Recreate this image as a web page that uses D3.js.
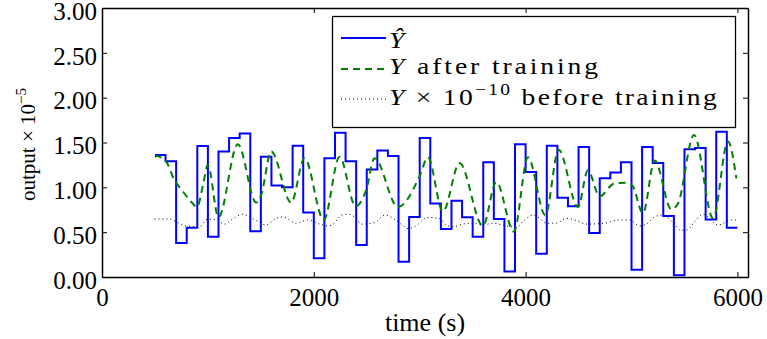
<!DOCTYPE html>
<html>
<head>
<meta charset="utf-8">
<script src="https://cdn.jsdelivr.net/npm/d3@7"></script>
<style>
  body { margin: 0; background: #fff; }
  svg text { font-family: "Liberation Serif", "DejaVu Serif", serif; }
</style>
</head>
<body>
<div id="chart"></div>
<script>
// Y-hat: zero-order hold, one value per 100 s interval starting at 500 s
const stepStart = 500;
const stepSize = 100;
const yHatValues = [
  1.36, 1.29, 0.38, 0.55, 1.46, 0.45, 1.40, 1.55, 1.60, 0.51,
  1.34, 1.02, 1.00, 1.465, 0.72, 0.21, 1.325, 1.61, 1.29, 0.357,
  1.20, 1.41, 1.35, 0.17, 0.67, 1.55, 0.82, 0.535, 0.85, 0.665,
  0.45, 1.28, 0.647, 0.06, 1.48, 1.17, 0.26, 1.465, 0.885, 0.79,
  1.45, 0.49, 1.10, 1.165, 1.28, 0.08, 1.45, 1.27, 0.68, 0.02,
  1.425, 1.44, 0.64, 1.62, 0.55
];

// Y after training (green dashed)
const afterTimes = [
  500, 520, 560, 605, 684, 753, 842, 898, 951, 999,
  1100, 1282, 1456, 1503, 1598, 1786, 1912, 2094, 2243, 2394,
  2495, 2573, 2794, 2998, 3077, 3219, 3376, 3597, 3723, 3889,
  4022, 4186, 4312, 4494, 4588, 4699, 4841, 4966, 5013, 5108,
  5219, 5376, 5439, 5590, 5770, 5911, 5990
];
const afterValues = [
  1.34, 1.35, 1.33, 1.29, 1.08, 0.97, 0.84, 0.78, 1.01, 1.25,
  0.666, 1.48, 0.83, 0.915, 1.40, 0.83, 1.325, 0.636, 1.34, 0.79,
  0.97, 1.325, 0.78, 1.12, 1.335, 0.73, 1.27, 0.57, 1.06, 0.505,
  1.335, 0.69, 1.42, 0.78, 1.19, 0.90, 1.045, 1.05, 1.01, 0.71,
  1.30, 0.755, 0.82, 1.585, 0.655, 1.51, 1.10
];

// Y x 1e-10 before training (black dotted)
const beforeTimes = [
  495, 637, 715, 794, 920, 999, 1078, 1156, 1220, 1329,
  1393, 1456, 1550, 1645, 1707, 1834, 1943, 2054, 2132, 2195,
  2259, 2321, 2400, 2448, 2573, 2668, 2826, 2888, 2951, 3077,
  3203, 3235, 3313, 3408, 3502, 3597, 3691, 3818, 3912, 3990,
  4069, 4132, 4195, 4290, 4384, 4479, 4573, 4746, 4872, 4982,
  5077, 5140, 5235, 5297, 5391, 5471, 5533, 5596, 5675, 5817,
  5943, 5990
];
const beforeValues = [
  0.647, 0.647, 0.606, 0.57, 0.56, 0.645, 0.64, 0.59, 0.636, 0.70,
  0.67, 0.63, 0.58, 0.655, 0.67, 0.60, 0.636, 0.59, 0.57, 0.60,
  0.69, 0.70, 0.655, 0.59, 0.606, 0.69, 0.59, 0.54, 0.56, 0.665,
  0.645, 0.59, 0.56, 0.59, 0.60, 0.58, 0.60, 0.57, 0.555, 0.636,
  0.69, 0.655, 0.60, 0.60, 0.655, 0.63, 0.59, 0.60, 0.636, 0.636,
  0.57, 0.59, 0.68, 0.69, 0.606, 0.517, 0.53, 0.617, 0.70, 0.58,
  0.636, 0.636
];

const xTicks = [0, 2000, 4000, 6000];
const yTicks = [0, 0.5, 1.0, 1.5, 2.0, 2.5, 3.0];

const width = 767, height = 339;
const margin = {top: 8, right: 19, bottom: 62, left: 102};
const serif = "'Liberation Serif', 'DejaVu Serif', serif";

const svg = d3.select("#chart").append("svg")
  .attr("width", width)
  .attr("height", height);

const x = d3.scaleLinear().domain([0, 6100]).range([margin.left, width - margin.right]);
const y = d3.scaleLinear().domain([0, 3]).range([height - margin.bottom, margin.top]);

// data series
const yHat = yHatValues.map((v, i) => [stepStart + i * stepSize, v]);
yHat.push([stepStart + yHatValues.length * stepSize, yHatValues[yHatValues.length - 1]]);
const after = afterTimes.map((t, i) => [t, afterValues[i]]);
const before = beforeTimes.map((t, i) => [t, beforeValues[i]]);

const plot = svg.append("g");

plot.append("path")
  .datum(before)
  .attr("fill", "none")
  .attr("stroke", "#000")
  .attr("stroke-width", 1)
  .attr("stroke-dasharray", "1,3")
  .attr("d", d3.line().x(d => x(d[0])).y(d => y(d[1])).curve(d3.curveMonotoneX));

plot.append("path")
  .datum(yHat)
  .attr("fill", "none")
  .attr("stroke", "#0000ff")
  .attr("stroke-width", 2)
  .attr("d", d3.line().x(d => x(d[0])).y(d => y(d[1])).curve(d3.curveStepAfter));

plot.append("path")
  .datum(after)
  .attr("fill", "none")
  .attr("stroke", "#008000")
  .attr("stroke-width", 2)
  .attr("stroke-dasharray", "7,5")
  .attr("d", d3.line().x(d => x(d[0])).y(d => y(d[1])).curve(d3.curveMonotoneX));

// axes, ticks pointing inward on all four sides
const axBottom = svg.append("g")
  .attr("transform", `translate(0,${y(0)})`)
  .call(d3.axisBottom(x).tickValues(xTicks).tickSizeInner(-5).tickSizeOuter(0)
    .tickPadding(11).tickFormat(d3.format("d")));
const axTop = svg.append("g")
  .attr("transform", `translate(0,${y(3)})`)
  .call(d3.axisTop(x).tickValues(xTicks).tickSizeInner(-5).tickSizeOuter(0).tickFormat(""));
const axLeft = svg.append("g")
  .attr("transform", `translate(${x(0)},0)`)
  .call(d3.axisLeft(y).tickValues(yTicks).tickSizeInner(-5).tickSizeOuter(0)
    .tickPadding(5).tickFormat(d3.format(".2f")));
const axRight = svg.append("g")
  .attr("transform", `translate(${x(6100)},0)`)
  .call(d3.axisRight(y).tickValues(yTicks).tickSizeInner(-5).tickSizeOuter(0).tickFormat(""));

[axBottom, axTop, axLeft, axRight].forEach(a => {
  a.attr("font-family", serif).attr("font-size", 25);
  a.select(".domain").attr("stroke", "#000").attr("stroke-width", 1.5);
  a.selectAll(".tick line").attr("stroke", "#000").attr("stroke-width", 1);
  a.selectAll(".tick text").attr("fill", "#000").style("font-size", "25px")
    .style("font-family", serif);
});
axLeft.selectAll(".tick text").attr("dy", "0.45em");

// axis titles
svg.append("text")
  .attr("x", (x(0) + x(6100)) / 2)
  .attr("y", 331)
  .attr("text-anchor", "middle")
  .style("font-size", "26px")
  .text("time (s)");

const yLabel = svg.append("text")
  .attr("transform", `translate(35,${(y(0) + y(3)) / 2 + 2}) rotate(-90)`)
  .attr("text-anchor", "middle")
  .style("font-size", "21px");
yLabel.append("tspan").text("output \u00d7 10");
yLabel.append("tspan").attr("dy", -9).style("font-size", "15px").text("\u22125");

// legend
const legend = svg.append("g");
legend.append("rect")
  .attr("x", 332.5).attr("y", 16.5)
  .attr("width", 403).attr("height", 111)
  .attr("fill", "#fff").attr("stroke", "#000").attr("stroke-width", 1.3);

const rows = [
  {cy: 38, base: 48, stroke: "#0000ff", dash: null, w: 2, span: 0},
  {cy: 69, base: 74, stroke: "#008000", dash: "7,5", w: 2, span: 212},
  {cy: 99, base: 105, stroke: "#000", dash: "1,3", w: 1, span: 330}
];
rows.forEach(r => {
  legend.append("line")
    .attr("x1", 341).attr("x2", 386)
    .attr("y1", r.cy).attr("y2", r.cy)
    .attr("stroke", r.stroke)
    .attr("stroke-width", r.w)
    .attr("stroke-dasharray", r.dash);
});

// legend labels are set wide (LaTeX look): a light horizontal stretch plus letter spacing
const stretch = 1.15;
const labelGroups = rows.map(r =>
  legend.append("g").attr("transform", `translate(389,${r.base}) scale(${stretch},1)`));
const labels = labelGroups.map(g => g.append("text").style("font-size", "24px"));

labels[0].append("tspan").style("font-style", "italic").text("\u0176");

labels[1].append("tspan").style("font-style", "italic").text("Y");
labels[1].append("tspan").text(" after training");

labels[2].append("tspan").style("font-style", "italic").text("Y");
labels[2].append("tspan").text(" \u00d7 10");
labels[2].append("tspan").attr("dy", -10).style("font-size", "17px").text("\u221210");
labels[2].append("tspan").attr("dy", 10).text(" before training");

[1, 2].forEach(i => {
  const node = labels[i].node();
  const ls = (rows[i].span / stretch - node.getComputedTextLength()) / node.getNumberOfChars();
  labels[i].style("letter-spacing", `${ls}px`);
  if (i === 1) labels[0].style("letter-spacing", `${ls}px`);
});
</script>
</body>
</html>
